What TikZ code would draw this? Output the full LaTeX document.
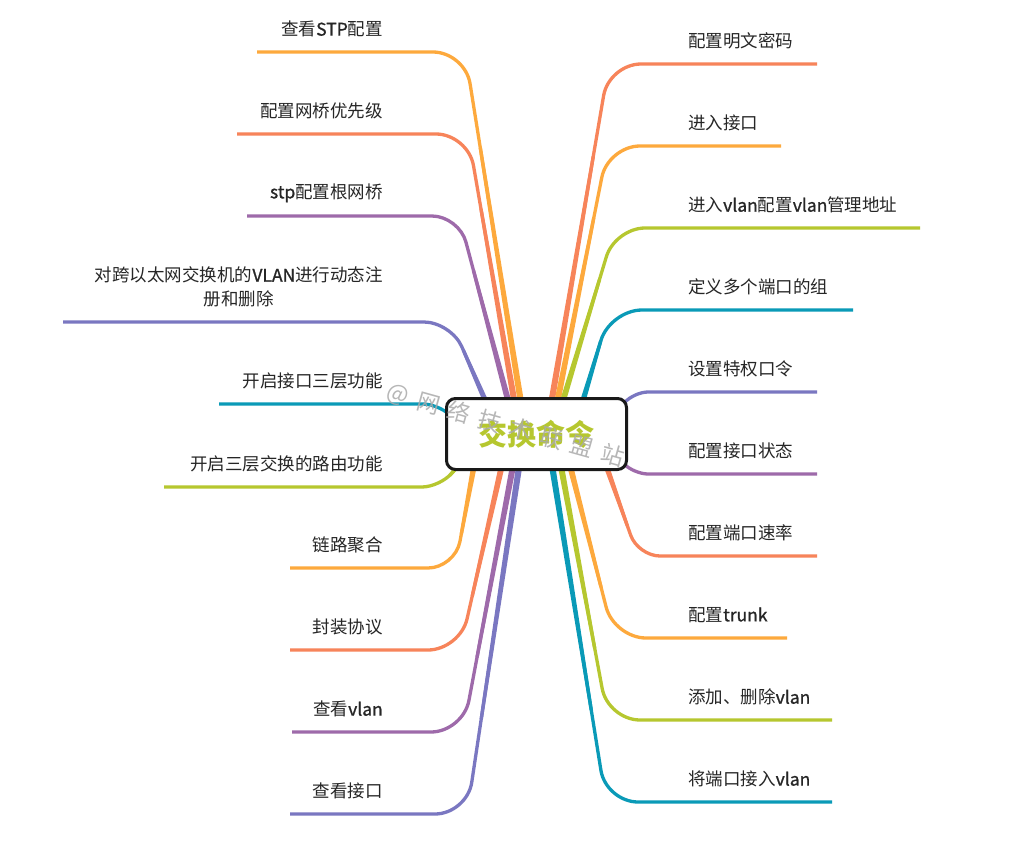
\documentclass[tikz,border=0pt]{standalone}
\usepackage{fontspec}
\setmainfont{Noto Sans CJK SC}
\usetikzlibrary{calc}
\definecolor{cOr}{HTML}{FDA93D}
\definecolor{cCo}{HTML}{F7845A}
\definecolor{cPu}{HTML}{9E6AAA}
\definecolor{cSl}{HTML}{7A77C1}
\definecolor{cTe}{HTML}{0A9AB7}
\definecolor{cGr}{HTML}{B6C72F}
\definecolor{cWm}{HTML}{AAAAAA}
\newcommand\latw[1]{{\addfontfeatures{FakeBold=1}#1}}
\newcommand\mmbranch[5]{%
  \draw[#1, line width=3.3pt, rounded corners=#5pt] (#2) -- (#3) -- (#4);
  \coordinate (#2m) at ($(#2)!0.75!(#3)$);
  \fill[#1] ($(#2)!3.3pt!90:(#3)$) -- ($(#2m)!1.65pt!-90:(#2)$) -- ($(#2m)!1.65pt!90:(#2)$) -- ($(#2)!3.3pt!-90:(#3)$) -- cycle;
}
\begin{document}
\begin{tikzpicture}[x=1pt,y=-1pt,
  lbl/.style={inner sep=0pt, font=\fontsize{17.5}{24}\selectfont, text={black!85}},
  lleft/.style={lbl, anchor=east},
  lright/.style={lbl, anchor=west},
  rootbox/.style={draw={black!90}, line width=3pt, rounded corners=9pt, fill=white,
     minimum width=180pt, minimum height=71pt, inner sep=0pt,
     font=\fontsize{29}{29}\selectfont\bfseries, text=cGr},
  wmark/.style={inner sep=0pt, text=cWm, opacity=0.85, rotate=-15.6, font=\fontsize{23}{23}\selectfont}]
\useasboundingbox (0,0) rectangle (1013,846);
\fill[white] (0,0) rectangle (1013,846);

% ---- left branch coordinates: start (hidden), corner, end
\coordinate (lp1) at (526,434); \coordinate (lk1) at (465,52);  \coordinate (le1) at (257,52);
\coordinate (lp2) at (520,434); \coordinate (lk2) at (468,134); \coordinate (le2) at (237,134);
\coordinate (lp3) at (517,434); \coordinate (lk3) at (459,216); \coordinate (le3) at (247,216);
\coordinate (lp4) at (500,434); \coordinate (lk4) at (451,322); \coordinate (le4) at (63,322);
\coordinate (lp5) at (470,434); \coordinate (lk5) at (438,404); \coordinate (le5) at (219,404);
\coordinate (lp6) at (480,440); \coordinate (lk6) at (440,487); \coordinate (le6) at (164,487);
\coordinate (lp7) at (480,434); \coordinate (lk7) at (455,568); \coordinate (le7) at (290,568);
\coordinate (lp8) at (509,434); \coordinate (lk8) at (460,650); \coordinate (le8) at (290,650);
\coordinate (lp9) at (519,434); \coordinate (lk9) at (463,732); \coordinate (le9) at (292,732);
\coordinate (lp10) at (524,434); \coordinate (lk10) at (467,814); \coordinate (le10) at (290,814);
% ---- right branch coordinates
\coordinate (rp1) at (546,434); \coordinate (rk1) at (609,64);  \coordinate (re1) at (817,64);
\coordinate (rp2) at (551,434); \coordinate (rk2) at (608,146); \coordinate (re2) at (781,146);
\coordinate (rp3) at (553,434); \coordinate (rk3) at (615,228); \coordinate (re3) at (920,228);
\coordinate (rp4) at (573,434); \coordinate (rk4) at (610,310); \coordinate (re4) at (853,310);
\coordinate (rp5) at (600,430); \coordinate (rk5) at (634,392); \coordinate (re5) at (817,392);
\coordinate (rp6) at (600,440); \coordinate (rk6) at (634,474); \coordinate (re6) at (817,474);
\coordinate (rp7) at (595,434); \coordinate (rk7) at (638,556); \coordinate (re7) at (817,556);
\coordinate (rp8) at (562,434); \coordinate (rk8) at (614,638); \coordinate (re8) at (787,638);
\coordinate (rp9) at (555,434); \coordinate (rk9) at (608,720); \coordinate (re9) at (832,720);
\coordinate (rp10) at (547,434); \coordinate (rk10) at (606,802); \coordinate (re10) at (832,802);

% ---- branches
\mmbranch{cOr}{lp1}{lk1}{le1}{32}
\mmbranch{cCo}{lp2}{lk2}{le2}{32}
\mmbranch{cPu}{lp3}{lk3}{le3}{27}
\mmbranch{cSl}{lp4}{lk4}{le4}{27}
\mmbranch{cTe}{lp5}{lk5}{le5}{15}
\mmbranch{cGr}{lp6}{lk6}{le6}{18}
\mmbranch{cOr}{lp7}{lk7}{le7}{27}
\mmbranch{cCo}{lp8}{lk8}{le8}{32}
\mmbranch{cPu}{lp9}{lk9}{le9}{32}
\mmbranch{cSl}{lp10}{lk10}{le10}{32}
\mmbranch{cCo}{rp1}{rk1}{re1}{32}
\mmbranch{cOr}{rp2}{rk2}{re2}{32}
\mmbranch{cGr}{rp3}{rk3}{re3}{30}
\mmbranch{cTe}{rp4}{rk4}{re4}{32}
\mmbranch{cSl}{rp5}{rk5}{re5}{14}
\mmbranch{cPu}{rp6}{rk6}{re6}{14}
\mmbranch{cCo}{rp7}{rk7}{re7}{22}
\mmbranch{cOr}{rp8}{rk8}{re8}{32}
\mmbranch{cGr}{rp9}{rk9}{re9}{32}
\mmbranch{cTe}{rp10}{rk10}{re10}{32}

% ---- root
\node[rootbox] (root) at (536.5,434) {交换命令};

% ---- left labels
\node[lleft] (lt1) at (383,29) {查看\latw{STP}配置};
\node[lleft] (lt2) at (383,111) {配置网桥优先级};
\node[lleft] (lt3) at (383,193) {\latw{stp}配置根网桥};
\node[lleft, align=center] (lt4) at (383,287) {对跨以太网交换机的\latw{VLAN}进行动态注\\册和删除};
\node[lleft] (lt5) at (383,381) {开启接口三层功能};
\node[lleft] (lt6) at (383,464) {开启三层交换的路由功能};
\node[lleft] (lt7) at (383,545) {链路聚合};
\node[lleft] (lt8) at (383,627) {封装协议};
\node[lleft] (lt9) at (383,709) {查看\latw{vlan}};
\node[lleft] (lt10) at (383,791) {查看接口};
% ---- right labels
\node[lright] (rt1) at (688,41) {配置明文密码};
\node[lright] (rt2) at (688,123) {进入接口};
\node[lright] (rt3) at (688,205) {进入\latw{vlan}配置\latw{vlan}管理地址};
\node[lright] (rt4) at (688,287) {定义多个端口的组};
\node[lright] (rt5) at (688,369) {设置特权口令};
\node[lright] (rt6) at (688,451) {配置接口状态};
\node[lright] (rt7) at (688,533) {配置端口速率};
\node[lright] (rt8) at (688,615) {配置\latw{trunk}};
\node[lright] (rt9) at (688,697) {添加、删除\latw{vlan}};
\node[lright] (rt10) at (688,779) {将端口接入\latw{vlan}};

% ---- watermark
\foreach \c [count=\i] in {@,网,络,技,术,联,盟,站}
  \node[wmark] (wm\i) at ({398+(\i-1)*30.7},{395+(\i-1)*8.6}) {\c};
\end{tikzpicture}
\end{document}
